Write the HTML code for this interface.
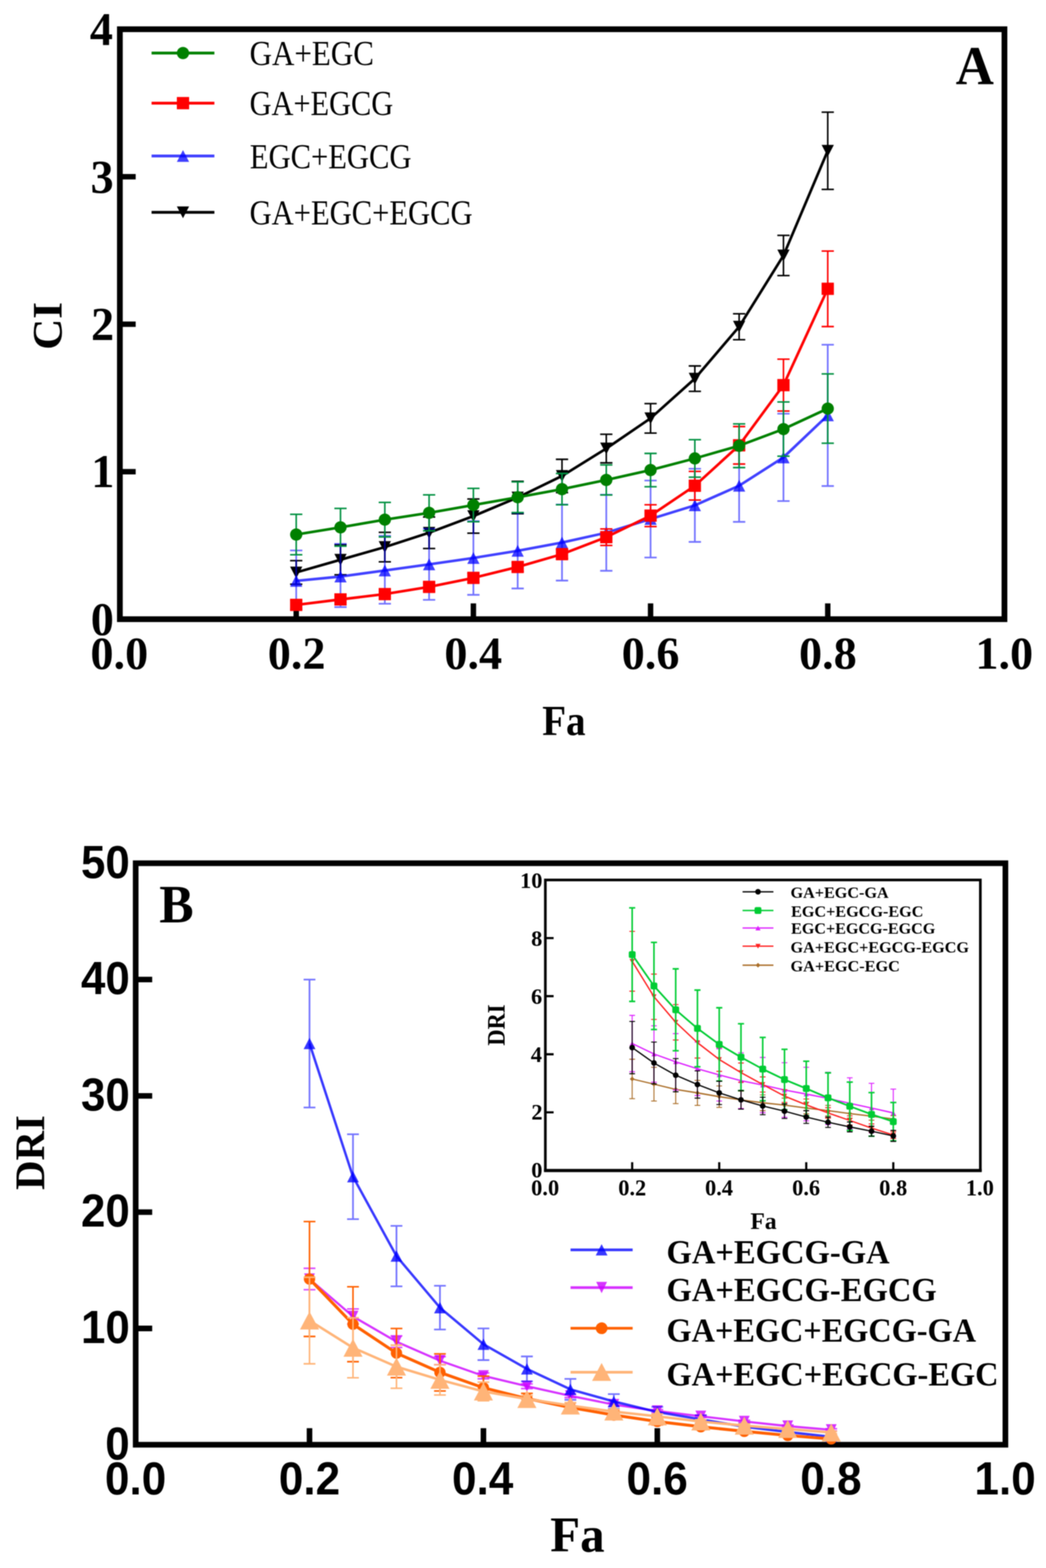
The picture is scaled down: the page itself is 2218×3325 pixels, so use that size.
<!DOCTYPE html>
<html lang="en"><head><meta charset="utf-8"><title>CI and DRI versus Fa</title>
<style>
html,body{margin:0;padding:0;background:#fff;}
body{width:2218px;height:3325px;overflow:hidden;}
svg{display:block;}
text{white-space:pre;}
</style></head>
<body>
<svg width="2218" height="3325" viewBox="0 0 2218 3325">
<defs><filter id="soft" x="0" y="0" width="100%" height="100%" filterUnits="objectBoundingBox" color-interpolation-filters="sRGB"><feConvolveMatrix order="3" kernelMatrix="1 2 1 2 4 2 1 2 1" divisor="16" edgeMode="duplicate" preserveAlpha="false"/><feConvolveMatrix order="3" kernelMatrix="1 2 1 2 4 2 1 2 1" divisor="16" edgeMode="duplicate" preserveAlpha="false"/></filter></defs>
<g filter="url(#soft)">
<rect width="2218" height="3325" fill="#fff"/>
<g id="chartA">
<path d="M254.2 1000.2h33.5M254.2 687.5h33.5M254.2 374.8h33.5M628.1 1313.0v-33.5M1003.8 1313.0v-33.5M1379.5 1313.0v-33.5M1755.2 1313.0v-33.5" stroke="#000" stroke-width="11.5" fill="none"/>
<rect x="254.2" y="62.0" width="1875.7" height="1251.0" fill="none" stroke="#000" stroke-width="12.2"/>
<path d="M628.1 1188.8V1238.9M615.1 1188.8H641.1M615.1 1238.9H641.1M722.0 1155.1V1218.9M709.0 1155.1H735.0M709.0 1218.9H735.0M816.0 1128.8V1191.3M803.0 1128.8H829.0M803.0 1191.3H829.0M909.9 1096.3V1163.2M896.9 1096.3H922.9M896.9 1163.2H922.9M1003.8 1058.1V1130.7M990.8 1058.1H1016.8M990.8 1130.7H1016.8M1097.7 1020.6V1089.4M1084.7 1020.6H1110.7M1084.7 1089.4H1110.7M1191.7 974.0V1044.7M1178.7 974.0H1204.7M1178.7 1044.7H1204.7M1285.6 920.8V981.5M1272.6 920.8H1298.6M1272.6 981.5H1298.6M1379.5 855.8V918.3M1366.5 855.8H1392.5M1366.5 918.3H1392.5M1473.4 776.0V829.8M1460.4 776.0H1486.4M1460.4 829.8H1486.4M1567.3 665.3V720.3M1554.3 665.3H1580.3M1554.3 720.3H1580.3M1661.3 499.2V584.3M1648.3 499.2H1674.3M1648.3 584.3H1674.3M1755.2 237.8V401.6M1742.2 237.8H1768.2M1742.2 401.6H1768.2" fill="none" stroke="#000000" stroke-width="3.3"/>
<polyline points="628.1,1213.9 722.0,1187.0 816.0,1160.1 909.9,1129.7 1003.8,1094.4 1097.7,1055.0 1191.7,1009.3 1285.6,951.1 1379.5,887.0 1473.4,802.9 1567.3,692.8 1661.3,541.8 1755.2,319.7" fill="none" stroke="#000000" stroke-width="5.6" stroke-linejoin="round"/>
<path d="M615.1 1201.4L641.1 1201.4L628.1 1226.4Z" fill="#000000"/>
<path d="M709.0 1174.5L735.0 1174.5L722.0 1199.5Z" fill="#000000"/>
<path d="M803.0 1147.6L829.0 1147.6L816.0 1172.6Z" fill="#000000"/>
<path d="M896.9 1117.2L922.9 1117.2L909.9 1142.2Z" fill="#000000"/>
<path d="M990.8 1081.9L1016.8 1081.9L1003.8 1106.9Z" fill="#000000"/>
<path d="M1084.7 1042.5L1110.7 1042.5L1097.7 1067.5Z" fill="#000000"/>
<path d="M1178.7 996.8L1204.7 996.8L1191.7 1021.8Z" fill="#000000"/>
<path d="M1272.6 938.6L1298.6 938.6L1285.6 963.6Z" fill="#000000"/>
<path d="M1366.5 874.5L1392.5 874.5L1379.5 899.5Z" fill="#000000"/>
<path d="M1460.4 790.4L1486.4 790.4L1473.4 815.4Z" fill="#000000"/>
<path d="M1554.3 680.3L1580.3 680.3L1567.3 705.3Z" fill="#000000"/>
<path d="M1648.3 529.3L1674.3 529.3L1661.3 554.3Z" fill="#000000"/>
<path d="M1742.2 307.2L1768.2 307.2L1755.2 332.2Z" fill="#000000"/>
<path d="M628.1 1167.3V1291.1M615.1 1167.3H641.1M615.1 1291.1H641.1M722.0 1153.3V1287.4M709.0 1153.3H735.0M709.0 1287.4H735.0M816.0 1136.3V1280.2M803.0 1136.3H829.0M803.0 1280.2H829.0M909.9 1121.3V1272.0M896.9 1121.3H922.9M896.9 1272.0H922.9M1003.8 1105.0V1261.4M990.8 1105.0H1016.8M990.8 1261.4H1016.8M1097.7 1087.8V1247.9M1084.7 1087.8H1110.7M1084.7 1247.9H1110.7M1191.7 1069.7V1231.1M1178.7 1069.7H1204.7M1178.7 1231.1H1204.7M1285.6 1049.0V1210.4M1272.6 1049.0H1298.6M1272.6 1210.4H1298.6M1379.5 1019.0V1182.3M1366.5 1019.0H1392.5M1366.5 1182.3H1392.5M1473.4 994.0V1149.1M1460.4 994.0H1486.4M1460.4 1149.1H1486.4M1567.3 953.3V1106.6M1554.3 953.3H1580.3M1554.3 1106.6H1580.3M1661.3 877.3V1062.5M1648.3 877.3H1674.3M1648.3 1062.5H1674.3M1755.2 731.0V1030.6M1742.2 731.0H1768.2M1742.2 1030.6H1768.2" fill="none" stroke="#0000ff" stroke-width="3.6" opacity="0.55"/>
<polyline points="628.1,1231.7 722.0,1222.6 816.0,1209.8 909.9,1196.7 1003.8,1183.2 1097.7,1167.9 1191.7,1150.4 1285.6,1129.7 1379.5,1100.6 1473.4,1071.6 1567.3,1030.0 1661.3,969.9 1755.2,880.8" fill="none" stroke="#0000ff" stroke-width="5.6" stroke-linejoin="round" opacity="0.75"/>
<path d="M615.1 1244.2L641.1 1244.2L628.1 1219.2Z" fill="#0000ff" opacity="0.75"/>
<path d="M709.0 1235.1L735.0 1235.1L722.0 1210.1Z" fill="#0000ff" opacity="0.75"/>
<path d="M803.0 1222.3L829.0 1222.3L816.0 1197.3Z" fill="#0000ff" opacity="0.75"/>
<path d="M896.9 1209.2L922.9 1209.2L909.9 1184.2Z" fill="#0000ff" opacity="0.75"/>
<path d="M990.8 1195.7L1016.8 1195.7L1003.8 1170.7Z" fill="#0000ff" opacity="0.75"/>
<path d="M1084.7 1180.4L1110.7 1180.4L1097.7 1155.4Z" fill="#0000ff" opacity="0.75"/>
<path d="M1178.7 1162.9L1204.7 1162.9L1191.7 1137.9Z" fill="#0000ff" opacity="0.75"/>
<path d="M1272.6 1142.2L1298.6 1142.2L1285.6 1117.2Z" fill="#0000ff" opacity="0.75"/>
<path d="M1366.5 1113.1L1392.5 1113.1L1379.5 1088.1Z" fill="#0000ff" opacity="0.75"/>
<path d="M1460.4 1084.1L1486.4 1084.1L1473.4 1059.1Z" fill="#0000ff" opacity="0.75"/>
<path d="M1554.3 1042.5L1580.3 1042.5L1567.3 1017.5Z" fill="#0000ff" opacity="0.75"/>
<path d="M1648.3 982.4L1674.3 982.4L1661.3 957.4Z" fill="#0000ff" opacity="0.75"/>
<path d="M1742.2 893.3L1768.2 893.3L1755.2 868.3Z" fill="#0000ff" opacity="0.75"/>
<path d="M628.1 1273.3V1292.0M615.1 1273.3H641.1M615.1 1292.0H641.1M722.0 1261.7V1280.5M709.0 1261.7H735.0M709.0 1280.5H735.0M816.0 1250.5V1269.2M803.0 1250.5H829.0M803.0 1269.2H829.0M909.9 1235.1V1253.9M896.9 1235.1H922.9M896.9 1253.9H922.9M1003.8 1216.0V1234.8M990.8 1216.0H1016.8M990.8 1234.8H1016.8M1097.7 1192.9V1211.7M1084.7 1192.9H1110.7M1084.7 1211.7H1110.7M1191.7 1165.7V1184.5M1178.7 1165.7H1204.7M1178.7 1184.5H1204.7M1285.6 1121.6V1156.6M1272.6 1121.6H1298.6M1272.6 1156.6H1298.6M1379.5 1070.3V1116.6M1366.5 1070.3H1392.5M1366.5 1116.6H1392.5M1473.4 999.6V1060.3M1460.4 999.6H1486.4M1460.4 1060.3H1486.4M1567.3 904.5V984.0M1554.3 904.5H1580.3M1554.3 984.0H1580.3M1661.3 761.6V871.7M1648.3 761.6H1674.3M1648.3 871.7H1674.3M1755.2 532.4V692.5M1742.2 532.4H1768.2M1742.2 692.5H1768.2" fill="none" stroke="#ff0000" stroke-width="3.3"/>
<polyline points="628.1,1282.7 722.0,1271.1 816.0,1259.8 909.9,1244.5 1003.8,1225.4 1097.7,1202.3 1191.7,1175.1 1285.6,1139.1 1379.5,1093.4 1473.4,1030.0 1567.3,944.3 1661.3,816.7 1755.2,612.4" fill="none" stroke="#ff0000" stroke-width="5.6" stroke-linejoin="round"/>
<rect x="615.1" y="1269.7" width="26.0" height="26.0" fill="#ff0000"/>
<rect x="709.0" y="1258.1" width="26.0" height="26.0" fill="#ff0000"/>
<rect x="803.0" y="1246.8" width="26.0" height="26.0" fill="#ff0000"/>
<rect x="896.9" y="1231.5" width="26.0" height="26.0" fill="#ff0000"/>
<rect x="990.8" y="1212.4" width="26.0" height="26.0" fill="#ff0000"/>
<rect x="1084.7" y="1189.3" width="26.0" height="26.0" fill="#ff0000"/>
<rect x="1178.7" y="1162.1" width="26.0" height="26.0" fill="#ff0000"/>
<rect x="1272.6" y="1126.1" width="26.0" height="26.0" fill="#ff0000"/>
<rect x="1366.5" y="1080.4" width="26.0" height="26.0" fill="#ff0000"/>
<rect x="1460.4" y="1017.0" width="26.0" height="26.0" fill="#ff0000"/>
<rect x="1554.3" y="931.3" width="26.0" height="26.0" fill="#ff0000"/>
<rect x="1648.3" y="803.7" width="26.0" height="26.0" fill="#ff0000"/>
<rect x="1742.2" y="599.4" width="26.0" height="26.0" fill="#ff0000"/>
<path d="M628.1 1090.6V1176.3M615.1 1090.6H641.1M615.1 1176.3H641.1M722.0 1078.1V1158.2M709.0 1078.1H735.0M709.0 1158.2H735.0M816.0 1065.3V1138.5M803.0 1065.3H829.0M803.0 1138.5H829.0M909.9 1049.4V1125.7M896.9 1049.4H922.9M896.9 1125.7H922.9M1003.8 1035.6V1106.3M990.8 1035.6H1016.8M990.8 1106.3H1016.8M1097.7 1021.8V1086.9M1084.7 1021.8H1110.7M1084.7 1086.9H1110.7M1191.7 1004.0V1070.3M1178.7 1004.0H1204.7M1178.7 1070.3H1204.7M1285.6 985.9V1049.7M1272.6 985.9H1298.6M1272.6 1049.7H1298.6M1379.5 961.5V1032.2M1366.5 961.5H1392.5M1366.5 1032.2H1392.5M1473.4 932.4V1011.8M1460.4 932.4H1486.4M1460.4 1011.8H1486.4M1567.3 898.9V991.5M1554.3 898.9H1580.3M1554.3 991.5H1580.3M1661.3 852.3V967.4M1648.3 852.3H1674.3M1648.3 967.4H1674.3M1755.2 792.9V939.9M1742.2 792.9H1768.2M1742.2 939.9H1768.2" fill="none" stroke="#009040" stroke-width="3.3"/>
<polyline points="628.1,1133.5 722.0,1118.2 816.0,1101.9 909.9,1087.5 1003.8,1070.9 1097.7,1054.4 1191.7,1037.2 1285.6,1017.8 1379.5,996.8 1473.4,972.1 1567.3,945.2 1661.3,909.9 1755.2,866.4" fill="none" stroke="#008000" stroke-width="5.6" stroke-linejoin="round"/>
<circle cx="628.1" cy="1133.5" r="13.0" fill="#008000"/>
<circle cx="722.0" cy="1118.2" r="13.0" fill="#008000"/>
<circle cx="816.0" cy="1101.9" r="13.0" fill="#008000"/>
<circle cx="909.9" cy="1087.5" r="13.0" fill="#008000"/>
<circle cx="1003.8" cy="1070.9" r="13.0" fill="#008000"/>
<circle cx="1097.7" cy="1054.4" r="13.0" fill="#008000"/>
<circle cx="1191.7" cy="1037.2" r="13.0" fill="#008000"/>
<circle cx="1285.6" cy="1017.8" r="13.0" fill="#008000"/>
<circle cx="1379.5" cy="996.8" r="13.0" fill="#008000"/>
<circle cx="1473.4" cy="972.1" r="13.0" fill="#008000"/>
<circle cx="1567.3" cy="945.2" r="13.0" fill="#008000"/>
<circle cx="1661.3" cy="909.9" r="13.0" fill="#008000"/>
<circle cx="1755.2" cy="866.4" r="13.0" fill="#008000"/>
<text transform="matrix(0.98000 0 0 0.99500 192.42 1345.90)" font-family='"Liberation Serif", serif' font-weight="bold" font-size="100">0</text>
<text transform="matrix(0.98000 0 0 0.99500 193.40 1033.15)" font-family='"Liberation Serif", serif' font-weight="bold" font-size="100">1</text>
<text transform="matrix(0.98000 0 0 0.99500 192.91 720.40)" font-family='"Liberation Serif", serif' font-weight="bold" font-size="100">2</text>
<text transform="matrix(0.98000 0 0 0.99500 191.93 407.65)" font-family='"Liberation Serif", serif' font-weight="bold" font-size="100">3</text>
<text transform="matrix(0.98000 0 0 0.99500 190.46 94.90)" font-family='"Liberation Serif", serif' font-weight="bold" font-size="100">4</text>
<text transform="matrix(0.98000 0 0 0.98000 191.75 1417.60)" font-family='"Liberation Serif", serif' font-weight="bold" font-size="100">0.0</text>
<text transform="matrix(0.98000 0 0 0.98000 567.70 1417.60)" font-family='"Liberation Serif", serif' font-weight="bold" font-size="100">0.2</text>
<text transform="matrix(0.98000 0 0 0.98000 942.17 1417.60)" font-family='"Liberation Serif", serif' font-weight="bold" font-size="100">0.4</text>
<text transform="matrix(0.98000 0 0 0.98000 1318.36 1417.60)" font-family='"Liberation Serif", serif' font-weight="bold" font-size="100">0.6</text>
<text transform="matrix(0.98000 0 0 0.98000 1694.31 1417.60)" font-family='"Liberation Serif", serif' font-weight="bold" font-size="100">0.8</text>
<text transform="matrix(0.98000 0 0 0.98000 2068.29 1417.60)" font-family='"Liberation Serif", serif' font-weight="bold" font-size="100">1.0</text>
<text transform="matrix(0 -0.91262 0.88060 0 130.32 741.86)" font-family='"Liberation Serif", serif' font-weight="bold" font-size="100">CI</text>
<text transform="matrix(0.82870 0 0 0.91818 1149.76 1558.54)" font-family='"Liberation Serif", serif' font-weight="bold" font-size="100" fill="#000">Fa</text>
<text transform="matrix(1.12057 0 0 1.16794 2026.38 177.98)" font-family='"Liberation Serif", serif' font-weight="bold" font-size="100" fill="#000">A</text>
<line x1="321.4" y1="112.5" x2="454.6" y2="112.5" stroke="#008000" stroke-width="6.0"/><circle cx="388.0" cy="112.5" r="13.0" fill="#008000"/>
<text transform="matrix(0.65798 0 0 0.74500 529.17 137.70)" font-family='"Liberation Serif", serif' font-weight="normal" font-size="100" fill="#000">GA+EGC</text>
<line x1="321.4" y1="218.7" x2="454.6" y2="218.7" stroke="#ff0000" stroke-width="6.0"/><rect x="375.0" y="205.7" width="26.0" height="26.0" fill="#ff0000"/>
<text transform="matrix(0.64399 0 0 0.74500 529.22 243.80)" font-family='"Liberation Serif", serif' font-weight="normal" font-size="100" fill="#000">GA+EGCG</text>
<line x1="321.4" y1="330.8" x2="454.6" y2="330.8" stroke="#0000ff" stroke-width="6.0" opacity="0.75"/><path d="M375.0 343.3L401.0 343.3L388.0 318.3Z" fill="#0000ff" opacity="0.75"/>
<text transform="matrix(0.64823 0 0 0.74500 529.86 356.80)" font-family='"Liberation Serif", serif' font-weight="normal" font-size="100" fill="#000">EGC+EGCG</text>
<line x1="321.4" y1="450.2" x2="454.6" y2="450.2" stroke="#000000" stroke-width="6.0"/><path d="M375.0 437.7L401.0 437.7L388.0 462.7Z" fill="#000000"/>
<text transform="matrix(0.64844 0 0 0.74500 529.21 475.50)" font-family='"Liberation Serif", serif' font-weight="normal" font-size="100" fill="#000">GA+EGC+EGCG</text>
</g>
<g id="chartB">
<path d="M287.7 2817.0h35M287.7 2570.4h35M287.7 2323.8h35M287.7 2077.2h35M656.3 3063.6v-35M1025.1 3063.6v-35M1393.8 3063.6v-35M1762.6 3063.6v-35" stroke="#000" stroke-width="11.8" fill="none"/>
<rect x="287.7" y="1830.5" width="1844.2" height="1233.1" fill="none" stroke="#000" stroke-width="12.0"/>
<path d="M656.3 2689.5V2734.9M643.8 2689.5H668.8M643.8 2734.9H668.8M748.5 2775.6V2807.6M736.0 2775.6H761.0M736.0 2807.6H761.0M840.7 2832.8V2857.4M828.2 2832.8H853.2M828.2 2857.4H853.2M932.9 2876.7V2893.9M920.4 2876.7H945.4M920.4 2893.9H945.4M1025.1 2911.4V2923.8M1012.6 2911.4H1037.6M1012.6 2923.8H1037.6M1117.3 2934.6V2944.5M1104.8 2934.6H1129.8M1104.8 2944.5H1129.8M1209.5 2956.3V2963.7M1197.0 2956.3H1222.0M1197.0 2963.7H1222.0M1301.6 2974.8V2982.2M1289.1 2974.8H1314.1M1289.1 2982.2H1314.1M1393.8 2989.1V2995.0M1381.3 2989.1H1406.3M1381.3 2995.0H1406.3M1486.0 3000.7V3005.6M1473.5 3000.7H1498.5M1473.5 3005.6H1498.5M1578.2 3011.8V3016.7M1565.7 3011.8H1590.7M1565.7 3016.7H1590.7M1670.4 3021.7V3026.6M1657.9 3021.7H1682.9M1657.9 3026.6H1682.9M1762.6 3029.6V3034.5M1750.1 3029.6H1775.1M1750.1 3034.5H1775.1" fill="none" stroke="#cc00ff" stroke-width="3.4" opacity="0.7"/>
<polyline points="656.3,2712.2 748.5,2791.6 840.7,2845.1 932.9,2885.3 1025.1,2917.6 1117.3,2939.6 1209.5,2960.0 1301.6,2978.5 1393.8,2992.1 1486.0,3003.2 1578.2,3014.3 1670.4,3024.1 1762.6,3032.0" fill="none" stroke="#cc00ff" stroke-width="4.6" stroke-linejoin="round" opacity="0.8"/>
<path d="M644.8 2700.2L667.8 2700.2L656.3 2724.2Z" fill="#cc00ff" opacity="0.8"/>
<path d="M737.0 2779.6L760.0 2779.6L748.5 2803.6Z" fill="#cc00ff" opacity="0.8"/>
<path d="M829.2 2833.1L852.2 2833.1L840.7 2857.1Z" fill="#cc00ff" opacity="0.8"/>
<path d="M921.4 2873.3L944.4 2873.3L932.9 2897.3Z" fill="#cc00ff" opacity="0.8"/>
<path d="M1013.6 2905.6L1036.6 2905.6L1025.1 2929.6Z" fill="#cc00ff" opacity="0.8"/>
<path d="M1105.8 2927.6L1128.8 2927.6L1117.3 2951.6Z" fill="#cc00ff" opacity="0.8"/>
<path d="M1198.0 2948.0L1221.0 2948.0L1209.5 2972.0Z" fill="#cc00ff" opacity="0.8"/>
<path d="M1290.1 2966.5L1313.1 2966.5L1301.6 2990.5Z" fill="#cc00ff" opacity="0.8"/>
<path d="M1382.3 2980.1L1405.3 2980.1L1393.8 3004.1Z" fill="#cc00ff" opacity="0.8"/>
<path d="M1474.5 2991.2L1497.5 2991.2L1486.0 3015.2Z" fill="#cc00ff" opacity="0.8"/>
<path d="M1566.7 3002.3L1589.7 3002.3L1578.2 3026.3Z" fill="#cc00ff" opacity="0.8"/>
<path d="M1658.9 3012.1L1681.9 3012.1L1670.4 3036.1Z" fill="#cc00ff" opacity="0.8"/>
<path d="M1751.1 3020.0L1774.1 3020.0L1762.6 3044.0Z" fill="#cc00ff" opacity="0.8"/>
<path d="M656.3 2077.2V2348.5M643.8 2077.2H668.8M643.8 2348.5H668.8M748.5 2405.2V2585.2M736.0 2405.2H761.0M736.0 2585.2H761.0M840.7 2599.5V2727.7M828.2 2599.5H853.2M828.2 2727.7H853.2M932.9 2726.5V2819.2M920.4 2726.5H945.4M920.4 2819.2H945.4M1025.1 2817.0V2884.1M1012.6 2817.0H1037.6M1012.6 2884.1H1037.6M1117.3 2876.4V2929.2M1104.8 2876.4H1129.8M1104.8 2929.2H1129.8M1209.5 2924.0V2968.4M1197.0 2924.0H1222.0M1197.0 2968.4H1222.0M1301.6 2956.3V2987.4M1289.1 2956.3H1314.1M1289.1 2987.4H1314.1M1393.8 2983.2V3005.4M1381.3 2983.2H1406.3M1381.3 3005.4H1406.3M1486.0 3001.2V3018.5M1473.5 3001.2H1498.5M1473.5 3018.5H1498.5M1578.2 3019.2V3031.5M1565.7 3019.2H1590.7M1565.7 3031.5H1590.7M1670.4 3031.8V3041.7M1657.9 3031.8H1682.9M1657.9 3041.7H1682.9M1762.6 3043.1V3050.5M1750.1 3043.1H1775.1M1750.1 3050.5H1775.1" fill="none" stroke="#0000ff" stroke-width="3.6" opacity="0.55"/>
<polyline points="656.3,2212.8 748.5,2495.2 840.7,2663.6 932.9,2772.9 1025.1,2850.5 1117.3,2902.8 1209.5,2946.2 1301.6,2971.9 1393.8,2994.3 1486.0,3009.8 1578.2,3025.4 1670.4,3036.7 1762.6,3046.8" fill="none" stroke="#0000ff" stroke-width="5.2" stroke-linejoin="round" opacity="0.78"/>
<path d="M643.8 2224.8L668.8 2224.8L656.3 2200.8Z" fill="#0000ff" opacity="0.78"/>
<path d="M736.0 2507.2L761.0 2507.2L748.5 2483.2Z" fill="#0000ff" opacity="0.78"/>
<path d="M828.2 2675.6L853.2 2675.6L840.7 2651.6Z" fill="#0000ff" opacity="0.78"/>
<path d="M920.4 2784.9L945.4 2784.9L932.9 2760.9Z" fill="#0000ff" opacity="0.78"/>
<path d="M1012.6 2862.5L1037.6 2862.5L1025.1 2838.5Z" fill="#0000ff" opacity="0.78"/>
<path d="M1104.8 2914.8L1129.8 2914.8L1117.3 2890.8Z" fill="#0000ff" opacity="0.78"/>
<path d="M1197.0 2958.2L1222.0 2958.2L1209.5 2934.2Z" fill="#0000ff" opacity="0.78"/>
<path d="M1289.1 2983.9L1314.1 2983.9L1301.6 2959.9Z" fill="#0000ff" opacity="0.78"/>
<path d="M1381.3 3006.3L1406.3 3006.3L1393.8 2982.3Z" fill="#0000ff" opacity="0.78"/>
<path d="M1473.5 3021.8L1498.5 3021.8L1486.0 2997.8Z" fill="#0000ff" opacity="0.78"/>
<path d="M1565.7 3037.4L1590.7 3037.4L1578.2 3013.4Z" fill="#0000ff" opacity="0.78"/>
<path d="M1657.9 3048.7L1682.9 3048.7L1670.4 3024.7Z" fill="#0000ff" opacity="0.78"/>
<path d="M1750.1 3058.8L1775.1 3058.8L1762.6 3034.8Z" fill="#0000ff" opacity="0.78"/>
<path d="M656.3 2590.4V2834.0M643.8 2590.4H668.8M643.8 2834.0H668.8M748.5 2728.7V2887.5M736.0 2728.7H761.0M736.0 2887.5H761.0M840.7 2817.2V2921.3M828.2 2817.2H853.2M828.2 2921.3H853.2M932.9 2870.8V2949.7M920.4 2870.8H945.4M920.4 2949.7H945.4M1025.1 2918.1V2967.4M1012.6 2918.1H1037.6M1012.6 2967.4H1037.6M1117.3 2954.6V2976.8M1104.8 2954.6H1129.8M1104.8 2976.8H1129.8M1209.5 2974.8V2994.6M1197.0 2974.8H1222.0M1197.0 2994.6H1222.0M1301.6 2992.1V3009.3M1289.1 2992.1H1314.1M1289.1 3009.3H1314.1M1393.8 3006.9V3021.7M1381.3 3006.9H1406.3M1381.3 3021.7H1406.3M1486.0 3019.2V3031.5M1473.5 3019.2H1498.5M1473.5 3031.5H1498.5M1578.2 3030.3V3040.2M1565.7 3030.3H1590.7M1565.7 3040.2H1590.7M1670.4 3040.2V3047.6M1657.9 3040.2H1682.9M1657.9 3047.6H1682.9M1762.6 3048.8V3053.7M1750.1 3048.8H1775.1M1750.1 3053.7H1775.1" fill="none" stroke="#ff6000" stroke-width="3.3"/>
<polyline points="656.3,2712.2 748.5,2808.1 840.7,2869.3 932.9,2910.2 1025.1,2942.8 1117.3,2965.7 1209.5,2984.7 1301.6,3000.7 1393.8,3014.3 1486.0,3025.4 1578.2,3035.2 1670.4,3043.9 1762.6,3051.3" fill="none" stroke="#ff6000" stroke-width="6.3" stroke-linejoin="round"/>
<circle cx="656.3" cy="2712.2" r="12.0" fill="#ff6000"/>
<circle cx="748.5" cy="2808.1" r="12.0" fill="#ff6000"/>
<circle cx="840.7" cy="2869.3" r="12.0" fill="#ff6000"/>
<circle cx="932.9" cy="2910.2" r="12.0" fill="#ff6000"/>
<circle cx="1025.1" cy="2942.8" r="12.0" fill="#ff6000"/>
<circle cx="1117.3" cy="2965.7" r="12.0" fill="#ff6000"/>
<circle cx="1209.5" cy="2984.7" r="12.0" fill="#ff6000"/>
<circle cx="1301.6" cy="3000.7" r="12.0" fill="#ff6000"/>
<circle cx="1393.8" cy="3014.3" r="12.0" fill="#ff6000"/>
<circle cx="1486.0" cy="3025.4" r="12.0" fill="#ff6000"/>
<circle cx="1578.2" cy="3035.2" r="12.0" fill="#ff6000"/>
<circle cx="1670.4" cy="3043.9" r="12.0" fill="#ff6000"/>
<circle cx="1762.6" cy="3051.3" r="12.0" fill="#ff6000"/>
<path d="M656.3 2708.5V2892.0M643.8 2708.5H668.8M643.8 2892.0H668.8M748.5 2794.3V2921.6M736.0 2794.3H761.0M736.0 2921.6H761.0M840.7 2852.5V2943.8M828.2 2852.5H853.2M828.2 2943.8H853.2M932.9 2893.9V2958.1M920.4 2893.9H945.4M920.4 2958.1H945.4M1025.1 2930.9V2970.4M1012.6 2930.9H1037.6M1012.6 2970.4H1037.6M1117.3 2959.3V2974.1M1104.8 2959.3H1129.8M1104.8 2974.1H1129.8M1209.5 2974.3V2986.7M1197.0 2974.3H1222.0M1197.0 2986.7H1222.0M1301.6 2988.4V2998.3M1289.1 2988.4H1314.1M1289.1 2998.3H1314.1M1393.8 2998.5V3008.4M1381.3 2998.5H1406.3M1381.3 3008.4H1406.3M1486.0 3010.6V3018.0M1473.5 3010.6H1498.5M1473.5 3018.0H1498.5M1578.2 3019.5V3026.9M1565.7 3019.5H1590.7M1565.7 3026.9H1590.7M1670.4 3027.8V3032.8M1657.9 3027.8H1682.9M1657.9 3032.8H1682.9M1762.6 3035.2V3040.2M1750.1 3035.2H1775.1M1750.1 3040.2H1775.1" fill="none" stroke="#ffb478" stroke-width="3.3"/>
<polyline points="656.3,2800.2 748.5,2857.9 840.7,2898.1 932.9,2926.0 1025.1,2950.7 1117.3,2966.7 1209.5,2980.5 1301.6,2993.3 1393.8,3003.4 1486.0,3014.3 1578.2,3023.2 1670.4,3030.3 1762.6,3037.7" fill="none" stroke="#ffb478" stroke-width="5.3" stroke-linejoin="round"/>
<path d="M636.1 2819.2L676.6 2819.2L656.3 2781.2Z" fill="#ffb478"/>
<path d="M728.3 2876.9L768.8 2876.9L748.5 2838.9Z" fill="#ffb478"/>
<path d="M820.5 2917.1L861.0 2917.1L840.7 2879.1Z" fill="#ffb478"/>
<path d="M912.6 2945.0L953.1 2945.0L932.9 2907.0Z" fill="#ffb478"/>
<path d="M1004.8 2969.7L1045.3 2969.7L1025.1 2931.7Z" fill="#ffb478"/>
<path d="M1097.0 2985.7L1137.5 2985.7L1117.3 2947.7Z" fill="#ffb478"/>
<path d="M1189.2 2999.5L1229.7 2999.5L1209.5 2961.5Z" fill="#ffb478"/>
<path d="M1281.4 3012.3L1321.9 3012.3L1301.6 2974.3Z" fill="#ffb478"/>
<path d="M1373.6 3022.4L1414.1 3022.4L1393.8 2984.4Z" fill="#ffb478"/>
<path d="M1465.8 3033.3L1506.3 3033.3L1486.0 2995.3Z" fill="#ffb478"/>
<path d="M1557.9 3042.2L1598.4 3042.2L1578.2 3004.2Z" fill="#ffb478"/>
<path d="M1650.1 3049.3L1690.6 3049.3L1670.4 3011.3Z" fill="#ffb478"/>
<path d="M1742.3 3056.7L1782.8 3056.7L1762.6 3018.7Z" fill="#ffb478"/>
<text transform="matrix(0.93000 0 0 0.98500 223.30 3094.60)" font-family='"Liberation Sans", sans-serif' font-weight="bold" font-size="100">0</text>
<text transform="matrix(0.93000 0 0 0.98500 171.69 2848.00)" font-family='"Liberation Sans", sans-serif' font-weight="bold" font-size="100">10</text>
<text transform="matrix(0.93000 0 0 0.98500 171.69 2601.40)" font-family='"Liberation Sans", sans-serif' font-weight="bold" font-size="100">20</text>
<text transform="matrix(0.93000 0 0 0.98500 171.69 2354.80)" font-family='"Liberation Sans", sans-serif' font-weight="bold" font-size="100">30</text>
<text transform="matrix(0.93000 0 0 0.98500 171.69 2108.20)" font-family='"Liberation Sans", sans-serif' font-weight="bold" font-size="100">40</text>
<text transform="matrix(0.93000 0 0 0.98500 171.69 1861.60)" font-family='"Liberation Sans", sans-serif' font-weight="bold" font-size="100">50</text>
<text transform="matrix(0.93500 0 0 0.98500 222.62 3168.90)" font-family='"Liberation Sans", sans-serif' font-weight="bold" font-size="100">0.0</text>
<text transform="matrix(0.93500 0 0 0.98500 591.36 3168.90)" font-family='"Liberation Sans", sans-serif' font-weight="bold" font-size="100">0.2</text>
<text transform="matrix(0.93500 0 0 0.98500 958.46 3168.90)" font-family='"Liberation Sans", sans-serif' font-weight="bold" font-size="100">0.4</text>
<text transform="matrix(0.93500 0 0 0.98500 1328.60 3168.90)" font-family='"Liberation Sans", sans-serif' font-weight="bold" font-size="100">0.6</text>
<text transform="matrix(0.93500 0 0 0.98500 1697.11 3168.90)" font-family='"Liberation Sans", sans-serif' font-weight="bold" font-size="100">0.8</text>
<text transform="matrix(0.93500 0 0 0.98500 2066.35 3168.90)" font-family='"Liberation Sans", sans-serif' font-weight="bold" font-size="100">1.0</text>
<text transform="matrix(0 -0.86404 0.89313 0 92.70 2523.23)" font-family='"Liberation Serif", serif' font-weight="bold" font-size="100">DRI</text>
<text transform="matrix(1.03611 0 0 1.05303 1166.85 3290.27)" font-family='"Liberation Serif", serif' font-weight="bold" font-size="100" fill="#000">Fa</text>
<text transform="matrix(1.09280 0 0 1.14198 337.86 1955.80)" font-family='"Liberation Serif", serif' font-weight="bold" font-size="100" fill="#000">B</text>
<line x1="1209.8" y1="2650.3" x2="1341.5" y2="2650.3" stroke="#0000ff" stroke-width="5.8" opacity="0.78"/><path d="M1263.2 2662.3L1288.2 2662.3L1275.7 2638.3Z" fill="#0000ff" opacity="0.78"/>
<text transform="matrix(0.69131 0 0 0.72500 1413.14 2678.90)" font-family='"Liberation Serif", serif' font-weight="bold" font-size="100" fill="#000">GA+EGCG-GA</text>
<line x1="1209.8" y1="2730.3" x2="1341.5" y2="2730.3" stroke="#cc00ff" stroke-width="5.8" opacity="0.8"/><path d="M1264.2 2718.3L1287.2 2718.3L1275.7 2742.3Z" fill="#cc00ff" opacity="0.8"/>
<text transform="matrix(0.69130 0 0 0.72500 1413.14 2759.20)" font-family='"Liberation Serif", serif' font-weight="bold" font-size="100" fill="#000">GA+EGCG-EGCG</text>
<line x1="1209.8" y1="2816.6" x2="1341.5" y2="2816.6" stroke="#ff6000" stroke-width="5.8"/><circle cx="1275.7" cy="2816.6" r="12.5" fill="#ff6000"/>
<text transform="matrix(0.68504 0 0 0.72500 1413.17 2844.70)" font-family='"Liberation Serif", serif' font-weight="bold" font-size="100" fill="#000">GA+EGC+EGCG-GA</text>
<line x1="1209.8" y1="2909.8" x2="1341.5" y2="2909.8" stroke="#ffb478" stroke-width="5.8"/><path d="M1255.4 2928.2L1295.9 2928.2L1275.7 2890.2Z" fill="#ffb478"/>
<text transform="matrix(0.68701 0 0 0.72500 1413.16 2937.60)" font-family='"Liberation Serif", serif' font-weight="bold" font-size="100" fill="#000">GA+EGC+EGCG-EGC</text>
</g>
<g id="inset">
<path d="M1156.4 2358.8h17.5M1156.4 2235.6h17.5M1156.4 2112.4h17.5M1156.4 1989.2h17.5M1340.5 2482.0v-17.5M1525.1 2482.0v-17.5M1709.6 2482.0v-17.5M1894.2 2482.0v-17.5" stroke="#000" stroke-width="4.6" fill="none"/>
<rect x="1156.4" y="1866.0" width="922.4" height="616.0" fill="none" stroke="#000" stroke-width="5.6"/>
<line x1="1153.6000000000001" y1="2482.2" x2="2081.6000000000004" y2="2482.2" stroke="#000" stroke-width="6.8"/>
<path d="M1340.5 2246.1V2329.8M1334.5 2246.1H1346.5M1334.5 2329.8H1346.5M1386.7 2263.3V2334.8M1380.7 2263.3H1392.7M1380.7 2334.8H1392.7M1432.8 2280.0V2340.3M1426.8 2280.0H1438.8M1426.8 2340.3H1438.8M1478.9 2291.0V2344.0M1472.9 2291.0H1484.9M1472.9 2344.0H1484.9M1525.1 2302.7V2348.3M1519.1 2302.7H1531.1M1519.1 2348.3H1531.1M1571.2 2313.8V2350.8M1565.2 2313.8H1577.2M1565.2 2350.8H1577.2M1617.3 2321.8V2355.1M1611.3 2321.8H1623.3M1611.3 2355.1H1623.3M1663.5 2328.6V2358.2M1657.5 2328.6H1669.5M1657.5 2358.2H1669.5M1709.6 2337.2V2361.9M1703.6 2337.2H1715.6M1703.6 2361.9H1715.6M1755.8 2344.0V2366.2M1749.8 2344.0H1761.8M1749.8 2366.2H1761.8M1801.9 2351.4V2371.1M1795.9 2351.4H1807.9M1795.9 2371.1H1807.9M1848.0 2358.2V2375.4M1842.0 2358.2H1854.0M1842.0 2375.4H1854.0M1894.2 2365.6V2380.4M1888.2 2365.6H1900.2M1888.2 2380.4H1900.2" fill="none" stroke="#aa6e28" stroke-width="2.1"/>
<polyline points="1340.5,2288.0 1386.7,2299.0 1432.8,2310.1 1478.9,2317.5 1525.1,2325.5 1571.2,2332.3 1617.3,2338.5 1663.5,2343.4 1709.6,2349.6 1755.8,2355.1 1801.9,2361.3 1848.0,2366.8 1894.2,2373.0" fill="none" stroke="#aa6e28" stroke-width="2.8" stroke-linejoin="round"/>
<path d="M1335.5 2288.0L1340.5 2283.0L1345.5 2288.0L1340.5 2293.0Z" fill="#aa6e28"/>
<path d="M1381.7 2299.0L1386.7 2294.0L1391.7 2299.0L1386.7 2304.0Z" fill="#aa6e28"/>
<path d="M1427.8 2310.1L1432.8 2305.1L1437.8 2310.1L1432.8 2315.1Z" fill="#aa6e28"/>
<path d="M1473.9 2317.5L1478.9 2312.5L1483.9 2317.5L1478.9 2322.5Z" fill="#aa6e28"/>
<path d="M1520.1 2325.5L1525.1 2320.5L1530.1 2325.5L1525.1 2330.5Z" fill="#aa6e28"/>
<path d="M1566.2 2332.3L1571.2 2327.3L1576.2 2332.3L1571.2 2337.3Z" fill="#aa6e28"/>
<path d="M1612.3 2338.5L1617.3 2333.5L1622.3 2338.5L1617.3 2343.5Z" fill="#aa6e28"/>
<path d="M1658.5 2343.4L1663.5 2338.4L1668.5 2343.4L1663.5 2348.4Z" fill="#aa6e28"/>
<path d="M1704.6 2349.6L1709.6 2344.6L1714.6 2349.6L1709.6 2354.6Z" fill="#aa6e28"/>
<path d="M1750.8 2355.1L1755.8 2350.1L1760.8 2355.1L1755.8 2360.1Z" fill="#aa6e28"/>
<path d="M1796.9 2361.3L1801.9 2356.3L1806.9 2361.3L1801.9 2366.3Z" fill="#aa6e28"/>
<path d="M1843.0 2366.8L1848.0 2361.8L1853.0 2366.8L1848.0 2371.8Z" fill="#aa6e28"/>
<path d="M1889.2 2373.0L1894.2 2368.0L1899.2 2373.0L1894.2 2378.0Z" fill="#aa6e28"/>
<path d="M1340.5 2153.1V2272.6M1334.5 2153.1H1346.5M1334.5 2272.6H1346.5M1386.7 2175.2V2294.7M1380.7 2175.2H1392.7M1380.7 2294.7H1392.7M1432.8 2191.9V2311.4M1426.8 2191.9H1438.8M1426.8 2311.4H1438.8M1478.9 2209.7V2323.1M1472.9 2209.7H1484.9M1472.9 2323.1H1484.9M1525.1 2223.9V2334.8M1519.1 2223.9H1531.1M1519.1 2334.8H1531.1M1571.2 2232.5V2350.8M1565.2 2232.5H1577.2M1565.2 2350.8H1577.2M1617.3 2242.4V2359.4M1611.3 2242.4H1623.3M1611.3 2359.4H1623.3M1663.5 2253.5V2369.3M1657.5 2253.5H1669.5M1657.5 2369.3H1669.5M1709.6 2263.3V2376.7M1703.6 2263.3H1715.6M1703.6 2376.7H1715.6M1755.8 2273.8V2384.7M1749.8 2273.8H1761.8M1749.8 2384.7H1761.8M1801.9 2285.5V2393.9M1795.9 2285.5H1807.9M1795.9 2393.9H1807.9M1848.0 2297.2V2401.9M1842.0 2297.2H1854.0M1842.0 2401.9H1854.0M1894.2 2309.5V2410.5M1888.2 2309.5H1900.2M1888.2 2410.5H1900.2" fill="none" stroke="#dd22ff" stroke-width="2.1"/>
<polyline points="1340.5,2212.8 1386.7,2235.0 1432.8,2251.6 1478.9,2266.4 1525.1,2279.3 1571.2,2291.7 1617.3,2300.9 1663.5,2311.4 1709.6,2320.0 1755.8,2329.2 1801.9,2339.7 1848.0,2349.6 1894.2,2360.0" fill="none" stroke="#dd22ff" stroke-width="2.9" stroke-linejoin="round"/>
<path d="M1335.0 2217.8L1346.0 2217.8L1340.5 2207.8Z" fill="#dd22ff"/>
<path d="M1381.2 2240.0L1392.2 2240.0L1386.7 2230.0Z" fill="#dd22ff"/>
<path d="M1427.3 2256.6L1438.3 2256.6L1432.8 2246.6Z" fill="#dd22ff"/>
<path d="M1473.4 2271.4L1484.4 2271.4L1478.9 2261.4Z" fill="#dd22ff"/>
<path d="M1519.6 2284.3L1530.6 2284.3L1525.1 2274.3Z" fill="#dd22ff"/>
<path d="M1565.7 2296.7L1576.7 2296.7L1571.2 2286.7Z" fill="#dd22ff"/>
<path d="M1611.8 2305.9L1622.8 2305.9L1617.3 2295.9Z" fill="#dd22ff"/>
<path d="M1658.0 2316.4L1669.0 2316.4L1663.5 2306.4Z" fill="#dd22ff"/>
<path d="M1704.1 2325.0L1715.1 2325.0L1709.6 2315.0Z" fill="#dd22ff"/>
<path d="M1750.3 2334.2L1761.3 2334.2L1755.8 2324.2Z" fill="#dd22ff"/>
<path d="M1796.4 2344.7L1807.4 2344.7L1801.9 2334.7Z" fill="#dd22ff"/>
<path d="M1842.5 2354.6L1853.5 2354.6L1848.0 2344.6Z" fill="#dd22ff"/>
<path d="M1888.7 2365.0L1899.7 2365.0L1894.2 2355.0Z" fill="#dd22ff"/>
<path d="M1340.5 1975.0V2101.9M1334.5 1975.0H1346.5M1334.5 2101.9H1346.5M1386.7 2065.6V2161.7M1380.7 2065.6H1392.7M1380.7 2161.7H1392.7M1432.8 2130.3V2205.4M1426.8 2130.3H1438.8M1426.8 2205.4H1438.8M1478.9 2178.3V2243.6M1472.9 2178.3H1484.9M1472.9 2243.6H1484.9M1525.1 2221.4V2271.9M1519.1 2221.4H1531.1M1519.1 2271.9H1531.1M1571.2 2254.1V2294.7M1565.2 2254.1H1577.2M1565.2 2294.7H1577.2M1617.3 2283.6V2315.7M1611.3 2283.6H1623.3M1611.3 2315.7H1623.3M1663.5 2310.8V2337.9M1657.5 2310.8H1669.5M1657.5 2337.9H1669.5M1709.6 2330.5V2355.1M1703.6 2330.5H1715.6M1703.6 2355.1H1715.6M1755.8 2348.9V2371.1M1749.8 2348.9H1761.8M1749.8 2371.1H1761.8M1801.9 2366.2V2385.9M1795.9 2366.2H1807.9M1795.9 2385.9H1807.9M1848.0 2383.4V2400.7M1842.0 2383.4H1854.0M1842.0 2400.7H1854.0M1894.2 2399.5V2414.2M1888.2 2399.5H1900.2M1888.2 2414.2H1900.2" fill="none" stroke="#ff2020" stroke-width="2.1"/>
<polyline points="1340.5,2038.5 1386.7,2113.6 1432.8,2167.8 1478.9,2211.0 1525.1,2246.7 1571.2,2274.4 1617.3,2299.7 1663.5,2324.3 1709.6,2342.8 1755.8,2360.0 1801.9,2376.0 1848.0,2392.1 1894.2,2406.8" fill="none" stroke="#ff2020" stroke-width="2.9" stroke-linejoin="round"/>
<path d="M1335.0 2033.5L1346.0 2033.5L1340.5 2043.5Z" fill="#ff2020"/>
<path d="M1381.2 2108.6L1392.2 2108.6L1386.7 2118.6Z" fill="#ff2020"/>
<path d="M1427.3 2162.8L1438.3 2162.8L1432.8 2172.8Z" fill="#ff2020"/>
<path d="M1473.4 2206.0L1484.4 2206.0L1478.9 2216.0Z" fill="#ff2020"/>
<path d="M1519.6 2241.7L1530.6 2241.7L1525.1 2251.7Z" fill="#ff2020"/>
<path d="M1565.7 2269.4L1576.7 2269.4L1571.2 2279.4Z" fill="#ff2020"/>
<path d="M1611.8 2294.7L1622.8 2294.7L1617.3 2304.7Z" fill="#ff2020"/>
<path d="M1658.0 2319.3L1669.0 2319.3L1663.5 2329.3Z" fill="#ff2020"/>
<path d="M1704.1 2337.8L1715.1 2337.8L1709.6 2347.8Z" fill="#ff2020"/>
<path d="M1750.3 2355.0L1761.3 2355.0L1755.8 2365.0Z" fill="#ff2020"/>
<path d="M1796.4 2371.0L1807.4 2371.0L1801.9 2381.0Z" fill="#ff2020"/>
<path d="M1842.5 2387.1L1853.5 2387.1L1848.0 2397.1Z" fill="#ff2020"/>
<path d="M1888.7 2401.8L1899.7 2401.8L1894.2 2411.8Z" fill="#ff2020"/>
<path d="M1340.5 1925.1V2123.5M1334.0 1925.1H1347.0M1334.0 2123.5H1347.0M1386.7 1998.4V2183.2M1380.2 1998.4H1393.2M1380.2 2183.2H1393.2M1432.8 2054.5V2228.2M1426.3 2054.5H1439.3M1426.3 2228.2H1439.3M1478.9 2099.5V2262.1M1472.4 2099.5H1485.4M1472.4 2262.1H1485.4M1525.1 2137.0V2292.3M1518.6 2137.0H1531.6M1518.6 2292.3H1531.6M1571.2 2170.9V2312.6M1564.7 2170.9H1577.7M1564.7 2312.6H1577.7M1617.3 2199.9V2334.2M1610.8 2199.9H1623.8M1610.8 2334.2H1623.8M1663.5 2225.1V2353.3M1657.0 2225.1H1670.0M1657.0 2353.3H1670.0M1709.6 2250.4V2366.2M1703.1 2250.4H1716.1M1703.1 2366.2H1716.1M1755.8 2275.0V2381.0M1749.3 2275.0H1762.3M1749.3 2381.0H1762.3M1801.9 2294.7V2397.0M1795.4 2294.7H1808.4M1795.4 2397.0H1808.4M1848.0 2316.9V2409.3M1841.5 2316.9H1854.5M1841.5 2409.3H1854.5M1894.2 2337.9V2419.2M1887.7 2337.9H1900.7M1887.7 2419.2H1900.7" fill="none" stroke="#00cc33" stroke-width="3.3"/>
<polyline points="1340.5,2024.3 1386.7,2090.8 1432.8,2141.4 1478.9,2180.8 1525.1,2214.7 1571.2,2241.8 1617.3,2267.0 1663.5,2289.2 1709.6,2308.3 1755.8,2328.0 1801.9,2345.9 1848.0,2363.1 1894.2,2378.5" fill="none" stroke="#00cc33" stroke-width="3.7" stroke-linejoin="round"/>
<rect x="1333.3" y="2017.1" width="14.5" height="14.5" rx="3.5" fill="#00cc33"/>
<rect x="1379.4" y="2083.6" width="14.5" height="14.5" rx="3.5" fill="#00cc33"/>
<rect x="1425.6" y="2134.1" width="14.5" height="14.5" rx="3.5" fill="#00cc33"/>
<rect x="1471.7" y="2173.5" width="14.5" height="14.5" rx="3.5" fill="#00cc33"/>
<rect x="1517.8" y="2207.4" width="14.5" height="14.5" rx="3.5" fill="#00cc33"/>
<rect x="1564.0" y="2234.5" width="14.5" height="14.5" rx="3.5" fill="#00cc33"/>
<rect x="1610.1" y="2259.8" width="14.5" height="14.5" rx="3.5" fill="#00cc33"/>
<rect x="1656.2" y="2281.9" width="14.5" height="14.5" rx="3.5" fill="#00cc33"/>
<rect x="1702.4" y="2301.0" width="14.5" height="14.5" rx="3.5" fill="#00cc33"/>
<rect x="1748.5" y="2320.8" width="14.5" height="14.5" rx="3.5" fill="#00cc33"/>
<rect x="1794.6" y="2338.6" width="14.5" height="14.5" rx="3.5" fill="#00cc33"/>
<rect x="1840.8" y="2355.9" width="14.5" height="14.5" rx="3.5" fill="#00cc33"/>
<rect x="1886.9" y="2371.3" width="14.5" height="14.5" rx="3.5" fill="#00cc33"/>
<path d="M1340.5 2166.0V2276.9M1334.5 2166.0H1346.5M1334.5 2276.9H1346.5M1386.7 2209.7V2298.4M1380.7 2209.7H1392.7M1380.7 2298.4H1392.7M1432.8 2244.8V2315.1M1426.8 2244.8H1438.8M1426.8 2315.1H1438.8M1478.9 2270.7V2328.6M1472.9 2270.7H1484.9M1472.9 2328.6H1484.9M1525.1 2292.9V2342.2M1519.1 2292.9H1531.1M1519.1 2342.2H1531.1M1571.2 2312.6V2352.0M1565.2 2312.6H1577.2M1565.2 2352.0H1577.2M1617.3 2326.8V2363.7M1611.3 2326.8H1623.3M1611.3 2363.7H1623.3M1663.5 2340.9V2371.7M1657.5 2340.9H1669.5M1657.5 2371.7H1669.5M1709.6 2355.1V2382.2M1703.6 2355.1H1715.6M1703.6 2382.2H1715.6M1755.8 2368.7V2390.8M1749.8 2368.7H1761.8M1749.8 2390.8H1761.8M1801.9 2379.1V2400.1M1795.9 2379.1H1807.9M1795.9 2400.1H1807.9M1848.0 2388.4V2409.3M1842.0 2388.4H1854.0M1842.0 2409.3H1854.0M1894.2 2397.0V2420.4M1888.2 2397.0H1900.2M1888.2 2420.4H1900.2" fill="none" stroke="#000000" stroke-width="2.1"/>
<polyline points="1340.5,2221.4 1386.7,2254.1 1432.8,2280.0 1478.9,2299.7 1525.1,2317.5 1571.2,2332.3 1617.3,2345.2 1663.5,2356.3 1709.6,2368.7 1755.8,2379.7 1801.9,2389.6 1848.0,2398.8 1894.2,2408.7" fill="none" stroke="#000000" stroke-width="2.7" stroke-linejoin="round"/>
<circle cx="1340.5" cy="2221.4" r="6.0" fill="#000000"/>
<circle cx="1386.7" cy="2254.1" r="6.0" fill="#000000"/>
<circle cx="1432.8" cy="2280.0" r="6.0" fill="#000000"/>
<circle cx="1478.9" cy="2299.7" r="6.0" fill="#000000"/>
<circle cx="1525.1" cy="2317.5" r="6.0" fill="#000000"/>
<circle cx="1571.2" cy="2332.3" r="6.0" fill="#000000"/>
<circle cx="1617.3" cy="2345.2" r="6.0" fill="#000000"/>
<circle cx="1663.5" cy="2356.3" r="6.0" fill="#000000"/>
<circle cx="1709.6" cy="2368.7" r="6.0" fill="#000000"/>
<circle cx="1755.8" cy="2379.7" r="6.0" fill="#000000"/>
<circle cx="1801.9" cy="2389.6" r="6.0" fill="#000000"/>
<circle cx="1848.0" cy="2398.8" r="6.0" fill="#000000"/>
<circle cx="1894.2" cy="2408.7" r="6.0" fill="#000000"/>
<text transform="matrix(0.47500 0 0 0.47000 1126.45 2497.00)" font-family='"Liberation Serif", serif' font-weight="bold" font-size="100">0</text>
<text transform="matrix(0.47500 0 0 0.47000 1126.69 2374.28)" font-family='"Liberation Serif", serif' font-weight="bold" font-size="100">2</text>
<text transform="matrix(0.47500 0 0 0.47000 1125.50 2251.56)" font-family='"Liberation Serif", serif' font-weight="bold" font-size="100">4</text>
<text transform="matrix(0.47500 0 0 0.47000 1125.97 2128.84)" font-family='"Liberation Serif", serif' font-weight="bold" font-size="100">6</text>
<text transform="matrix(0.47500 0 0 0.47000 1126.21 2006.12)" font-family='"Liberation Serif", serif' font-weight="bold" font-size="100">8</text>
<text transform="matrix(0.47500 0 0 0.47000 1102.70 1883.40)" font-family='"Liberation Serif", serif' font-weight="bold" font-size="100">10</text>
<text transform="matrix(0.47500 0 0 0.49000 1126.31 2534.60)" font-family='"Liberation Serif", serif' font-weight="bold" font-size="100">0.0</text>
<text transform="matrix(0.47500 0 0 0.49000 1310.97 2534.60)" font-family='"Liberation Serif", serif' font-weight="bold" font-size="100">0.2</text>
<text transform="matrix(0.47500 0 0 0.49000 1494.92 2534.60)" font-family='"Liberation Serif", serif' font-weight="bold" font-size="100">0.4</text>
<text transform="matrix(0.47500 0 0 0.49000 1679.69 2534.60)" font-family='"Liberation Serif", serif' font-weight="bold" font-size="100">0.6</text>
<text transform="matrix(0.47500 0 0 0.49000 1864.35 2534.60)" font-family='"Liberation Serif", serif' font-weight="bold" font-size="100">0.8</text>
<text transform="matrix(0.47500 0 0 0.49000 2048.06 2534.60)" font-family='"Liberation Serif", serif' font-weight="bold" font-size="100">1.0</text>
<text transform="matrix(0 -0.47528 0.52672 0 1070.00 2217.15)" font-family='"Liberation Serif", serif' font-weight="bold" font-size="100">DRI</text>
<text transform="matrix(0.50093 0 0 0.50909 1591.15 2606.05)" font-family='"Liberation Serif", serif' font-weight="bold" font-size="100" fill="#000">Fa</text>
<line x1="1574.6" y1="1891.1" x2="1640.0" y2="1891.1" stroke="#000000" stroke-width="2.9"/><circle cx="1607.3" cy="1891.1" r="6.0" fill="#000000"/>
<text transform="matrix(0.34293 0 0 0.33500 1676.29 1903.60)" font-family='"Liberation Serif", serif' font-weight="bold" font-size="100" fill="#000">GA+EGC-GA</text>
<line x1="1574.6" y1="1930.7" x2="1640.0" y2="1930.7" stroke="#00cc33" stroke-width="2.9"/><rect x="1600.0" y="1923.5" width="14.5" height="14.5" rx="3.5" fill="#00cc33"/>
<text transform="matrix(0.34302 0 0 0.33500 1677.49 1943.90)" font-family='"Liberation Serif", serif' font-weight="bold" font-size="100" fill="#000">EGC+EGCG-EGC</text>
<line x1="1574.6" y1="1967.9" x2="1640.0" y2="1967.9" stroke="#dd22ff" stroke-width="2.9"/><path d="M1601.8 1972.9L1612.8 1972.9L1607.3 1962.9Z" fill="#dd22ff"/>
<text transform="matrix(0.34145 0 0 0.33500 1677.49 1979.60)" font-family='"Liberation Serif", serif' font-weight="bold" font-size="100" fill="#000">EGC+EGCG-EGCG</text>
<line x1="1574.6" y1="2006.4" x2="1640.0" y2="2006.4" stroke="#ff2020" stroke-width="2.9"/><path d="M1601.8 2001.4L1612.8 2001.4L1607.3 2011.4Z" fill="#ff2020"/>
<text transform="matrix(0.34320 0 0 0.33500 1676.28 2019.60)" font-family='"Liberation Serif", serif' font-weight="bold" font-size="100" fill="#000">GA+EGC+EGCG-EGCG</text>
<line x1="1574.6" y1="2046.8" x2="1640.0" y2="2046.8" stroke="#aa6e28" stroke-width="2.9"/><path d="M1602.3 2046.8L1607.3 2041.8L1612.3 2046.8L1607.3 2051.8Z" fill="#aa6e28"/>
<text transform="matrix(0.34418 0 0 0.33500 1676.28 2060.00)" font-family='"Liberation Serif", serif' font-weight="bold" font-size="100" fill="#000">GA+EGC-EGC</text>
</g>
</g>
</svg>
</body></html>
